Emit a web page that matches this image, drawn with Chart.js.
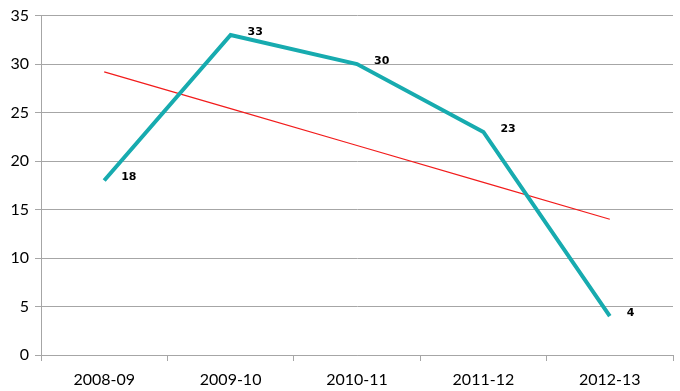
<!DOCTYPE html>
<html>
<head>
<meta charset="utf-8">
<script src="https://cdn.jsdelivr.net/npm/chart.js@4"></script>
<style>
  html, body { margin: 0; padding: 0; background: #fff; }
  #wrap { width: 680px; height: 391px; position: relative; }
</style>
</head>
<body>
<div id="wrap"><canvas id="chart"></canvas></div>
<script>
const years = ["2008-09", "2009-10", "2010-11", "2011-12", "2012-13"];
const counts = [18, 33, 30, 23, 4];
const trend = [29.2, 25.4, 21.6, 17.8, 14];
const yTicks = [0, 5, 10, 15, 20, 25, 30, 35];

const GRID = "#a6a6a6";
const FONT = "Lato, 'Open Sans', sans-serif";

// bold value labels just to the right of each point
const pointLabels = {
  id: "pointLabels",
  afterDatasetsDraw(chart) {
    const { ctx } = chart;
    const meta = chart.getDatasetMeta(0);
    ctx.save();
    ctx.font = "bold 11px 'DejaVu Sans', sans-serif";
    ctx.fillStyle = "#000";
    ctx.textAlign = "left";
    ctx.textBaseline = "middle";
    meta.data.forEach((pt, i) => {
      ctx.fillText(String(counts[i]), pt.x + 17, pt.y - 3);
    });
    ctx.restore();
  },
};

new Chart(document.getElementById("chart"), {
  type: "line",
  data: {
    labels: years,
    datasets: [
      {
        label: "Count",
        data: counts,
        borderColor: "#17abaf",
        borderWidth: 4,
        pointRadius: 0,
        tension: 0,
      },
      {
        label: "Trend",
        data: trend,
        borderColor: "#f21c1c",
        borderWidth: 1.2,
        pointRadius: 0,
        tension: 0,
      },
    ],
  },
  options: {
    responsive: true,
    maintainAspectRatio: false,
    animation: false,
    layout: { padding: { top: 7, right: 7, left: 0, bottom: 0 } },
    plugins: {
      legend: { display: false },
      tooltip: { enabled: false },
    },
    scales: {
      x: {
        offset: true,
        grid: {
          display: true,
          offset: true,
          drawOnChartArea: false,
          color: GRID,
          tickLength: 6,
          lineWidth: 1,
        },
        border: { color: GRID, width: 1 },
        ticks: {
          color: "#000",
          font: { family: FONT, size: 16 },
          padding: 9,
          maxRotation: 0,
        },
        afterFit: s => { s.height = 36; },
      },
      y: {
        min: 0,
        max: 35,
        afterBuildTicks: s => { s.ticks = yTicks.map(v => ({ value: v })); },
        grid: { color: GRID, lineWidth: 1, tickLength: 6 },
        border: { color: GRID, width: 1 },
        ticks: {
          color: "#000",
          font: { family: FONT, size: 16 },
          padding: 6,
        },
        afterFit: s => { s.width = 41; },
      },
    },
  },
  plugins: [pointLabels],
});
</script>
</body>
</html>
